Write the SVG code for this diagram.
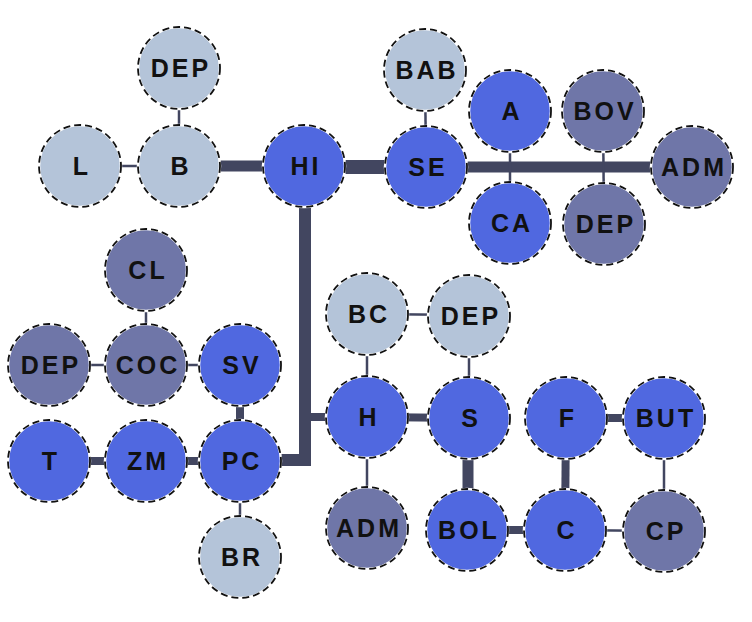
<svg xmlns="http://www.w3.org/2000/svg" width="752" height="622" viewBox="0 0 752 622">
<style>
.n circle{stroke:#fff;stroke-width:2.5}
.n circle.fg{fill:none;stroke:#111;stroke-width:1.8;stroke-dasharray:7 4}
.lt circle{fill:#b4c4d9}
.bl circle{fill:#5068e0}
.sl circle{fill:#6f76a8}
.n text{font-family:"Liberation Sans",Arial,sans-serif;font-weight:bold;font-size:25px;letter-spacing:3px;text-anchor:middle;fill:#111}
.c line,.c path{stroke:#424660;fill:none}
.t1{stroke-width:2.5}
.t2{stroke-width:8}
.t3{stroke-width:11}
</style>
<rect width="752" height="622" fill="#fff"/>
<g class="c" id="connectors">
<line class="t1" x1="80" y1="166" x2="179" y2="166"/>
<line class="t1" x1="179" y1="68" x2="179" y2="166"/>
<line class="t3" x1="179" y1="166" x2="304" y2="166"/>
<line x1="304" y1="167" x2="426" y2="167" style="stroke-width:14"/>
<line class="t3" x1="426" y1="167" x2="692" y2="167"/>
<line class="t1" x1="425" y1="70" x2="426" y2="167"/>
<line class="t1" x1="510" y1="111" x2="510" y2="223"/>
<line class="t1" x1="603" y1="111" x2="604" y2="224"/>
<path d="M305 200 V460 H240" style="stroke-width:12"/>
<line class="t2" x1="305" y1="417" x2="367" y2="417"/>
<line class="t1" x1="146" y1="270" x2="146" y2="365"/>
<line class="t1" x1="49" y1="365" x2="240" y2="365"/>
<line class="t2" x1="240" y1="365" x2="240" y2="461"/>
<line class="t2" x1="49" y1="461" x2="240" y2="461"/>
<line class="t1" x1="240" y1="461" x2="240" y2="557"/>
<line class="t1" x1="367" y1="314" x2="469" y2="315"/>
<line class="t1" x1="367" y1="314" x2="367" y2="528"/>
<line class="t1" x1="469" y1="316" x2="469" y2="418"/>
<line class="t2" x1="367" y1="417" x2="469" y2="418"/>
<line class="t3" x1="468" y1="418" x2="468" y2="530"/>
<line class="t2" x1="467" y1="530" x2="565" y2="530"/>
<line class="t1" x1="565" y1="530" x2="664" y2="531"/>
<line class="t2" x1="566" y1="418" x2="565" y2="530"/>
<line class="t2" x1="566" y1="418" x2="664" y2="418"/>
<line class="t1" x1="664" y1="418" x2="664" y2="531"/>
</g>
<g class="n lt" id="n-dep1"><circle cx="179" cy="68" r="41"/><circle class="fg" cx="179" cy="68" r="41"/><text x="181" y="77">DEP</text></g>
<g class="n lt" id="n-l"><circle cx="80" cy="166" r="41"/><circle class="fg" cx="80" cy="166" r="41"/><text x="82" y="175">L</text></g>
<g class="n lt" id="n-b"><circle cx="179" cy="166" r="41"/><circle class="fg" cx="179" cy="166" r="41"/><text x="181" y="175">B</text></g>
<g class="n bl" id="n-hi"><circle cx="304" cy="166" r="41"/><circle class="fg" cx="304" cy="166" r="41"/><text x="306" y="175">HI</text></g>
<g class="n lt" id="n-bab"><circle cx="425" cy="70" r="41"/><circle class="fg" cx="425" cy="70" r="41"/><text x="427" y="79">BAB</text></g>
<g class="n bl" id="n-se"><circle cx="426" cy="167" r="41"/><circle class="fg" cx="426" cy="167" r="41"/><text x="428" y="176">SE</text></g>
<g class="n bl" id="n-a"><circle cx="510" cy="111" r="41"/><circle class="fg" cx="510" cy="111" r="41"/><text x="512" y="120">A</text></g>
<g class="n bl" id="n-ca"><circle cx="510" cy="223" r="41"/><circle class="fg" cx="510" cy="223" r="41"/><text x="512" y="232">CA</text></g>
<g class="n sl" id="n-bov"><circle cx="603" cy="111" r="41"/><circle class="fg" cx="603" cy="111" r="41"/><text x="605" y="120">BOV</text></g>
<g class="n sl" id="n-dep2"><circle cx="604" cy="224" r="41"/><circle class="fg" cx="604" cy="224" r="41"/><text x="606" y="233">DEP</text></g>
<g class="n sl" id="n-adm1"><circle cx="692" cy="167" r="41"/><circle class="fg" cx="692" cy="167" r="41"/><text x="694" y="176">ADM</text></g>
<g class="n sl" id="n-cl"><circle cx="146" cy="270" r="41"/><circle class="fg" cx="146" cy="270" r="41"/><text x="148" y="279">CL</text></g>
<g class="n sl" id="n-dep3"><circle cx="49" cy="365" r="41"/><circle class="fg" cx="49" cy="365" r="41"/><text x="51" y="374">DEP</text></g>
<g class="n sl" id="n-coc"><circle cx="146" cy="365" r="41"/><circle class="fg" cx="146" cy="365" r="41"/><text x="148" y="374">COC</text></g>
<g class="n bl" id="n-sv"><circle cx="240" cy="365" r="41"/><circle class="fg" cx="240" cy="365" r="41"/><text x="242" y="374">SV</text></g>
<g class="n bl" id="n-t"><circle cx="49" cy="461" r="41"/><circle class="fg" cx="49" cy="461" r="41"/><text x="51" y="470">T</text></g>
<g class="n bl" id="n-zm"><circle cx="146" cy="461" r="41"/><circle class="fg" cx="146" cy="461" r="41"/><text x="148" y="470">ZM</text></g>
<g class="n bl" id="n-pc"><circle cx="240" cy="461" r="41"/><circle class="fg" cx="240" cy="461" r="41"/><text x="242" y="470">PC</text></g>
<g class="n lt" id="n-br"><circle cx="240" cy="557" r="41"/><circle class="fg" cx="240" cy="557" r="41"/><text x="242" y="566">BR</text></g>
<g class="n lt" id="n-bc"><circle cx="367" cy="314" r="41"/><circle class="fg" cx="367" cy="314" r="41"/><text x="369" y="323">BC</text></g>
<g class="n lt" id="n-dep4"><circle cx="469" cy="316" r="41"/><circle class="fg" cx="469" cy="316" r="41"/><text x="471" y="325">DEP</text></g>
<g class="n bl" id="n-h"><circle cx="367" cy="417" r="41"/><circle class="fg" cx="367" cy="417" r="41"/><text x="369" y="426">H</text></g>
<g class="n bl" id="n-s"><circle cx="469" cy="418" r="41"/><circle class="fg" cx="469" cy="418" r="41"/><text x="471" y="427">S</text></g>
<g class="n bl" id="n-f"><circle cx="566" cy="418" r="41"/><circle class="fg" cx="566" cy="418" r="41"/><text x="568" y="427">F</text></g>
<g class="n bl" id="n-but"><circle cx="664" cy="418" r="41"/><circle class="fg" cx="664" cy="418" r="41"/><text x="666" y="427">BUT</text></g>
<g class="n sl" id="n-adm2"><circle cx="367" cy="528" r="41"/><circle class="fg" cx="367" cy="528" r="41"/><text x="369" y="537">ADM</text></g>
<g class="n bl" id="n-bol"><circle cx="467" cy="530" r="41"/><circle class="fg" cx="467" cy="530" r="41"/><text x="469" y="539">BOL</text></g>
<g class="n bl" id="n-c"><circle cx="565" cy="530" r="41"/><circle class="fg" cx="565" cy="530" r="41"/><text x="567" y="539">C</text></g>
<g class="n sl" id="n-cp"><circle cx="664" cy="531" r="41"/><circle class="fg" cx="664" cy="531" r="41"/><text x="666" y="540">CP</text></g>
</svg>
